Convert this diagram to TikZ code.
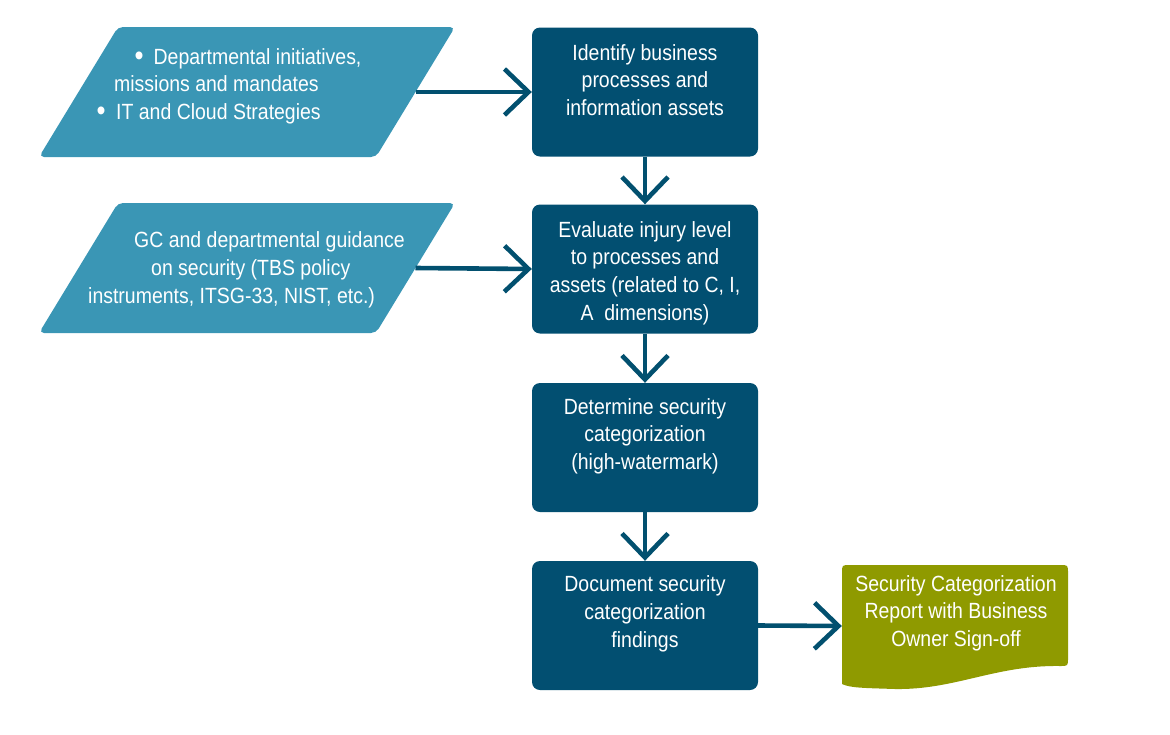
\documentclass[tikz,border=0pt]{standalone}
\usepackage{fontspec}
\setmainfont{Liberation Sans}[FakeStretch=0.885]
\usetikzlibrary{arrows.meta}
\definecolor{para}{HTML}{3A96B5}
\definecolor{proc}{HTML}{024F71}
\definecolor{arr}{HTML}{02506F}
\definecolor{docc}{HTML}{8F9A00}
\newcommand{\bigbul}{\raisebox{-1pt}{\fontsize{29}{29}\selectfont •}}
\begin{document}
\begin{tikzpicture}[x=1pt,y=-1pt,
  txt/.style={text=white,font=\fontsize{22}{27.7}\selectfont,inner sep=0pt,align=center,anchor=north},
  ltxt/.style={text=white,font=\fontsize{22}{27.7}\selectfont,inner sep=0pt,anchor=base west},
  procbox/.style={fill=proc,rounded corners=8pt,minimum width=226pt,minimum height=129pt,inner sep=0pt},
  inshape/.style={fill=para,rounded corners=5pt},
  flow/.style={draw=arr,line width=4.6pt,-{Straight Barb[length=24pt,width=46pt,line width=4.6pt]}}]
\useasboundingbox (0,0) rectangle (1170,734);

% input parallelograms
\fill[inshape] (118,27) -- (455,27) -- (376,157) -- (39,157) -- cycle;
\fill[inshape] (118,203) -- (455,203) -- (376,333) -- (39,333) -- cycle;
\coordinate (in1) at (415.5,92);
\coordinate (in2) at (415.5,268);

% process boxes
\node[procbox] (b1) at (645,92) {};
\node[procbox] (b2) at (645,269) {};
\node[procbox] (b3) at (645,447.5) {};
\node[procbox] (b4) at (645,625.5) {};

% document shape
\node[inner sep=0pt,minimum width=226pt,minimum height=122pt] (doc) at (955,626) {};
\fill[docc] (842,684) -- (842,573) .. controls (842,565) .. (850,565) -- (1060,565)
  .. controls (1068,565) .. (1068,573) -- (1068,658) .. controls (1068,666) .. (1060,666)
  .. controls (995,665) and (955,690) .. (895,689) .. controls (865,688) and (850,688) .. (842,684) -- cycle;

% texts in parallelograms
\node[ltxt] (t1a) at (134.5,64) {\bigbul\hspace{10pt}Departmental initiatives,};
\node[ltxt] (t1b) at (114,91.5) {missions and mandates};
\node[ltxt] (t1c) at (96.5,119) {\bigbul\hspace{10.5pt}IT and Cloud Strategies};
\node[ltxt] (t2a) at (134,247) {GC and departmental guidance};
\node[ltxt] (t2b) at (151,275) {on security (TBS policy};
\node[ltxt] (t2c) at (88,303) {instruments, ITSG-33, NIST, etc.)};

% texts in boxes
\node[txt] (tb1) at (645,44) {\rule{0pt}{16pt}Identify business\\processes and\\information assets};
\node[txt] (tb2) at (645,221) {\rule{0pt}{16pt}Evaluate injury level\\to processes and\\assets (related to C, I,\\A\ \ dimensions)};
\node[txt] (tb3) at (645,398) {\rule{0pt}{16pt}Determine security\\categorization\\(high-watermark)};
\node[txt] (tb4) at (645,575.5) {\rule{0pt}{16pt}Document security\\categorization\\findings};
\node[txt] (td) at (956,575) {\rule{0pt}{16pt}Security Categorization\\Report with Business\\Owner Sign-off};

% connectors
\draw[flow] (in1) -- (b1.west);
\draw[flow] (in2) -- (b2.west);
\draw[flow] (b1.south) -- (b2.north);
\draw[flow] (b2.south) -- (b3.north);
\draw[flow] (b3.south) -- (b4.north);
\draw[flow] (b4.east) -- (doc.west);
\end{tikzpicture}
\end{document}
